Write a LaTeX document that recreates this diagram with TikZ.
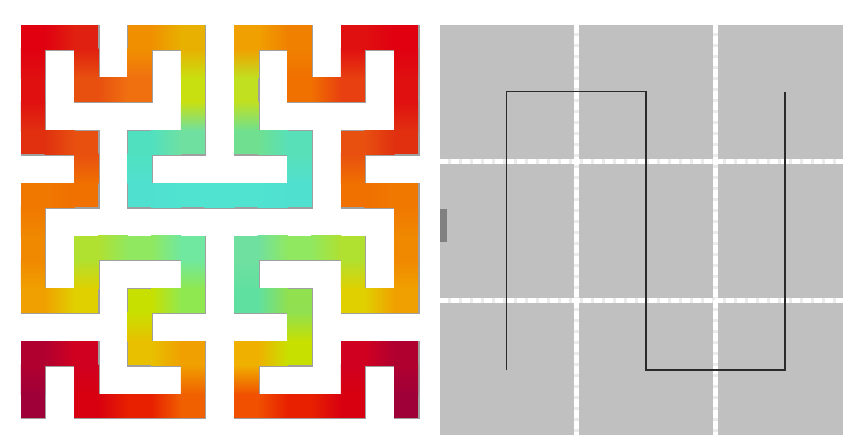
\documentclass[tikz,border=0pt]{standalone}
\definecolor{panelgray}{HTML}{C0C0C0}
\definecolor{gridgap}{HTML}{EBEBEB}
\definecolor{barcol}{HTML}{808080}
\definecolor{curvecol}{HTML}{2A2A2A}
\tikzset{
  shadowline/.style={black!75, opacity=0.5, line width=25.6bp, line join=miter, line cap=rect},
  gridbase/.style={gridgap, line width=5bp},
  griddash/.style={white, line width=5bp, dash pattern=on 8bp off 3bp},
  snake/.style={curvecol, line width=1.4bp, line join=miter}
}
\begin{document}
\begin{tikzpicture}[x=1bp,y=-1bp]
\useasboundingbox (0,0) rectangle (843,435);
\fill[white] (0,0) rectangle (843,435);
% ---------------- Hilbert curve (left panel)
\begin{scope}[shift={(33,406)},x=53.3bp,y=52.7bp]
\def\h{0.226}
\def\e{0.01}
\draw[shadowline, shift={(0.012,-0.012)}]
 (0,0)--(0,1)--(1,1)--(1,0)--(3,0)--(3,1)--(2,1)--(2,2)--(3,2)--(3,3)--(1,3)--(1,2)--(0,2)--(0,4)--(1,4)--(1,5)--(0,5)--(0,7)--(1,7)--(1,6)--(2,6)--(2,7)--(3,7)--(3,5)--(2,5)--(2,4)--(5,4)--(5,5)--(4,5)--(4,7)--(5,7)--(5,6)--(6,6)--(6,7)--(7,7)--(7,5)--(6,5)--(6,4)--(7,4)--(7,2)--(6,2)--(6,3)--(4,3)--(4,2)--(5,2)--(5,1)--(4,1)--(4,0)--(6,0)--(6,1)--(7,1)--(7,0);
\foreach \x/\y/\col [count=\k, remember=\x as \lx (initially 0), remember=\y as \ly (initially 0), remember=\col as \lcol (initially A00038)] in {
 0/0/A00038, 0/1/B00030, 1/1/D00020, 1/0/D80010, 2/0/E82000, 3/0/F06000, 3/1/F0A000, 2/1/E8C000,
 2/2/C8E000, 3/2/90E850, 3/3/70E8A0, 2/3/90E860, 1/3/B0E030, 1/2/E0D000, 0/2/F0A000, 0/3/F08800,
 0/4/F07800, 1/4/F07000, 1/5/E85010, 0/5/E03010, 0/6/E01010, 0/7/E00010, 1/7/E02010, 1/6/E85010,
 2/6/F07010, 2/7/F09000, 3/7/E8B000, 3/6/C8E010, 3/5/70E0A0, 2/5/50E0C0, 2/4/50E0D0, 3/4/50E3D0,
 4/4/50E3D0, 5/4/50E0D0, 5/5/58E0B8, 4/5/70E090, 4/6/C0E020, 4/7/F0A000, 5/7/F08000, 5/6/F07000,
 6/6/E84010, 6/7/E01010, 7/7/E00010, 7/6/E01010, 7/5/E03010, 6/5/E85010, 6/4/F07000, 7/4/F07800,
 7/3/F08800, 7/2/F0A000, 6/2/E0D000, 6/3/B0E030, 5/3/90E860, 4/3/70E0A0, 4/2/60E0A0, 5/2/90E050,
 5/1/C8E000, 4/1/F0B000, 4/0/F05000, 5/0/E82000, 6/0/D80010, 6/1/D00020, 7/1/B00030, 7/0/A00038}
{
  \definecolor{cA}{HTML}{\lcol}\definecolor{cB}{HTML}{\col}
  \ifnum\k>1
    \ifnum\y=\ly
      \ifnum\x>\lx
        \shade[left color=cA,right color=cB] (\lx+\h-\e,\y-\h) rectangle (\x-\h+\e,\y+\h);
      \else
        \shade[left color=cB,right color=cA] (\x+\h-\e,\y-\h) rectangle (\lx-\h+\e,\y+\h);
      \fi
    \else
      \ifnum\y>\ly
        \shade[bottom color=cA,top color=cB] (\x-\h,\ly+\h-\e) rectangle (\x+\h,\y-\h+\e);
      \else
        \shade[bottom color=cB,top color=cA] (\x-\h,\y+\h-\e) rectangle (\x+\h,\ly-\h+\e);
      \fi
    \fi
  \fi
  \fill[cB] (\x-\h,\y-\h) rectangle (\x+\h,\y+\h);
}
\end{scope}
% ---------------- Grid panel (right)
\fill[panelgray] (440,25) rectangle (843,435);
\foreach \gx in {576.7,715} {
  \draw[gridbase] (\gx,25) -- (\gx,435);
}
\foreach \gy in {161.7,301} {
  \draw[gridbase] (440,\gy) -- (843,\gy);
}
\foreach \gx in {576.7,715} {
  \draw[griddash] (\gx,25) -- (\gx,435);
}
\foreach \gy in {161.7,301} {
  \draw[griddash] (440,\gy) -- (843,\gy);
}
\fill[barcol] (440,209) rectangle (447,242);
\coordinate (p1) at (506.7,370);
\coordinate (p2) at (506.7,91.7);
\coordinate (p3) at (646,91.7);
\coordinate (p4) at (646,370);
\coordinate (p5) at (785,370);
\coordinate (p6) at (785,91.7);
\draw[snake] (p1) -- (p2) -- (p3) -- (p4) -- (p5) -- (p6);
\end{tikzpicture}
\end{document}
